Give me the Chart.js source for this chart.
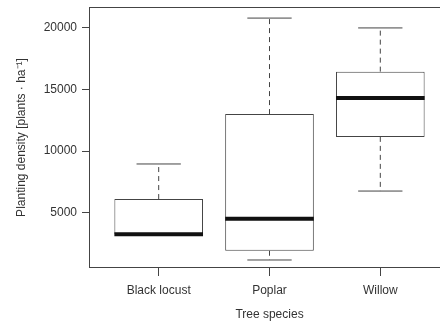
<!DOCTYPE html>
<html>
<head>
<meta charset="utf-8">
<script src="https://cdn.jsdelivr.net/npm/chart.js@4"></script>
<style>
  html, body { margin: 0; padding: 0; background: #fff; overflow: hidden; }
  #wrap { width: 460px; height: 324px; }
</style>
</head>
<body>
<div id="wrap"><canvas id="chart" width="460" height="324"></canvas></div>
<script>
// planting density per species, box plot summary
const categories = ["Black locust", "Poplar", "Willow"];
const minVals = [3250, 1150, 6750];
const q1Vals = [3250, 1900, 11150];
const medianVals = [3250, 4500, 14300];
const q3Vals = [6100, 13000, 16450];
const maxVals = [8950, 20800, 20000];
const yTicks = [5000, 10000, 15000, 20000];
const xTicks = [1, 2, 3];

const boxWidth = 0.8;
const capWidth = 0.4;
const lineColor = "#444";
const textColor = "#333";

let boxes = [], medians = [], whiskers = [], caps = [];
categories.forEach((c, i) => {
    let x = i + 1;
    boxes.push({ x: x, y: [q1Vals[i], q3Vals[i]] });
    medians.push({ x: x - boxWidth / 2, y: medianVals[i] }, { x: x + boxWidth / 2, y: medianVals[i] }, { x: x, y: null });
    whiskers.push({ x: x, y: q3Vals[i] }, { x: x, y: maxVals[i] }, { x: x, y: null });
    whiskers.push({ x: x, y: q1Vals[i] }, { x: x, y: minVals[i] }, { x: x, y: null });
    caps.push({ x: x - capWidth / 2, y: maxVals[i] }, { x: x + capWidth / 2, y: maxVals[i] }, { x: x, y: null });
    caps.push({ x: x - capWidth / 2, y: minVals[i] }, { x: x + capWidth / 2, y: minVals[i] }, { x: x, y: null });
});

// frame round the plot region
const frame = {
    id: "frame",
    afterDatasetsDraw(chart) {
        let a = chart.chartArea, ctx = chart.ctx;
        ctx.save();
        ctx.strokeStyle = lineColor;
        ctx.lineWidth = 1;
        ctx.strokeRect(Math.round(a.left) - 0.5, Math.round(a.top) + 0.5, Math.round(a.right - a.left), Math.round(a.bottom - a.top) - 1);
        ctx.restore();
    }
};

const font = { family: "'Liberation Sans', Arial, sans-serif", size: 12 };

new Chart(document.getElementById("chart"), {
    type: "scatter",
    data: {
        datasets: [
            {
                type: "bar",
                data: boxes,
                backgroundColor: "#fff",
                borderColor: lineColor,
                borderWidth: 1,
                borderSkipped: false,
                barPercentage: boxWidth,
                categoryPercentage: 1,
                order: 3
            },
            {
                data: whiskers,
                showLine: true,
                pointRadius: 0,
                borderColor: lineColor,
                borderWidth: 1,
                borderDash: [5, 4],
                order: 2
            },
            {
                data: caps,
                showLine: true,
                pointRadius: 0,
                borderColor: lineColor,
                borderWidth: 1,
                order: 2
            },
            {
                data: medians,
                showLine: true,
                pointRadius: 0,
                borderColor: "#111",
                borderWidth: 4,
                borderCapStyle: "butt",
                order: 1
            }
        ]
    },
    options: {
        responsive: false,
        animation: false,
        layout: { padding: { left: 0, top: 7, right: 11, bottom: 0 } },
        plugins: { legend: { display: false }, tooltip: { enabled: false } },
        scales: {
            x: {
                type: "linear",
                min: 0.38,
                max: 3.62,
                offset: false,
                afterBuildTicks: s => { s.ticks = xTicks.map(v => ({ value: v })); },
                afterFit: s => { s.height = 56; s.paddingLeft = 0; s.paddingRight = 0; },
                border: { display: false },
                grid: { drawOnChartArea: false, offset: false, tickLength: 8, color: lineColor },
                ticks: { padding: 7, color: textColor, font: font, callback: v => categories[v - 1] },
                title: { display: true, text: "Tree species", color: textColor, font: font, padding: { top: 0, bottom: 2 } }
            },
            y: {
                min: 500,
                max: 21700,
                afterBuildTicks: s => { s.ticks = yTicks.map(v => ({ value: v })); },
                afterFit: s => { s.width = 90; s.paddingTop = 0; s.paddingBottom = 0; },
                border: { display: false },
                grid: { drawOnChartArea: false, tickLength: 8, color: lineColor },
                ticks: { padding: 5, color: textColor, font: font, callback: v => String(v) },
                title: { display: true, text: "Planting density [plants · ha⁻¹]", color: textColor, font: font, padding: { top: 14, bottom: 0 } }
            }
        }
    },
    plugins: [frame]
});
</script>
</body>
</html>
